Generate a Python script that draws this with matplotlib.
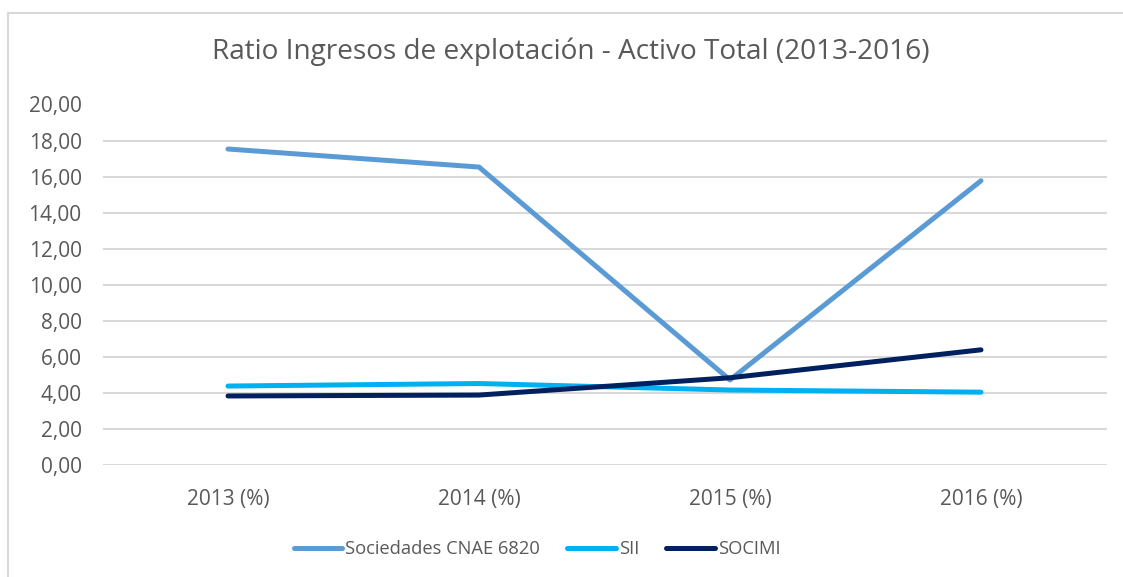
import matplotlib.pyplot as plt
from matplotlib.lines import Line2D

years = ['2013 (%)', '2014 (%)', '2015 (%)', '2016 (%)']
cnae = [17.53, 16.53, 4.72, 15.77]
sii = [4.38, 4.52, 4.16, 4.04]
socimi = [3.83, 3.88, 4.84, 6.39]
yticks = [0, 2, 4, 6, 8, 10, 12, 14, 16, 18, 20]

plt.rcParams['font.family'] = ['Open Sans', 'DejaVu Sans']

fig = plt.figure(figsize=(11.23, 5.77), dpi=100)
ax = fig.add_axes([102.5 / 1123, 1 - 465 / 577, 1004 / 1123, 360.5 / 577])

x = range(len(years))
ax.plot(x, cnae, c='#5B9BD5', lw=3.6, solid_capstyle='round', label='Sociedades CNAE 6820', zorder=3)
ax.plot(x, sii, c='#00B0F0', lw=3.6, solid_capstyle='round', label='SII', zorder=3)
ax.plot(x, socimi, c='#002060', lw=3.6, solid_capstyle='round', label='SOCIMI', zorder=4)

ax.set_xlim(-0.5, 3.5)
ax.set_ylim(0, 20)
ax.set_xticks(list(x))
ax.set_xticklabels(years)
ax.set_yticks(yticks)
ax.set_yticklabels([f'{v:.2f}'.replace('.', ',') for v in yticks])
ax.tick_params(length=0, labelsize=15, labelcolor='#595959')
ax.tick_params(axis='x', pad=17)
ax.tick_params(axis='y', pad=15)
ax.grid(axis='y', color='#d9d9d9', lw=1.5)
for s in ax.spines.values():
    s.set_visible(False)

fig.text(571 / 1123, 1 - 52 / 577, 'Ratio Ingresos de explotación - Activo Total (2013-2016)',
         ha='center', va='center', fontsize=20.2, color='#595959')

ax.legend(loc='center', bbox_to_anchor=(537 / 1123, 1 - 549 / 577), bbox_transform=fig.transFigure,
          ncol=3, frameon=False, fontsize=13.2, labelcolor='#595959', handlelength=2.65,
          handletextpad=0.15, columnspacing=1.5)

# outer chart border
fig.add_artist(Line2D([7.5 / 1123, 1], [1 - 12.5 / 577] * 2, color='#d9d9d9', lw=1.5))
fig.add_artist(Line2D([7.5 / 1123] * 2, [0, 1 - 12.5 / 577], color='#d9d9d9', lw=1.5))

fig.savefig('out.png', dpi=100)
